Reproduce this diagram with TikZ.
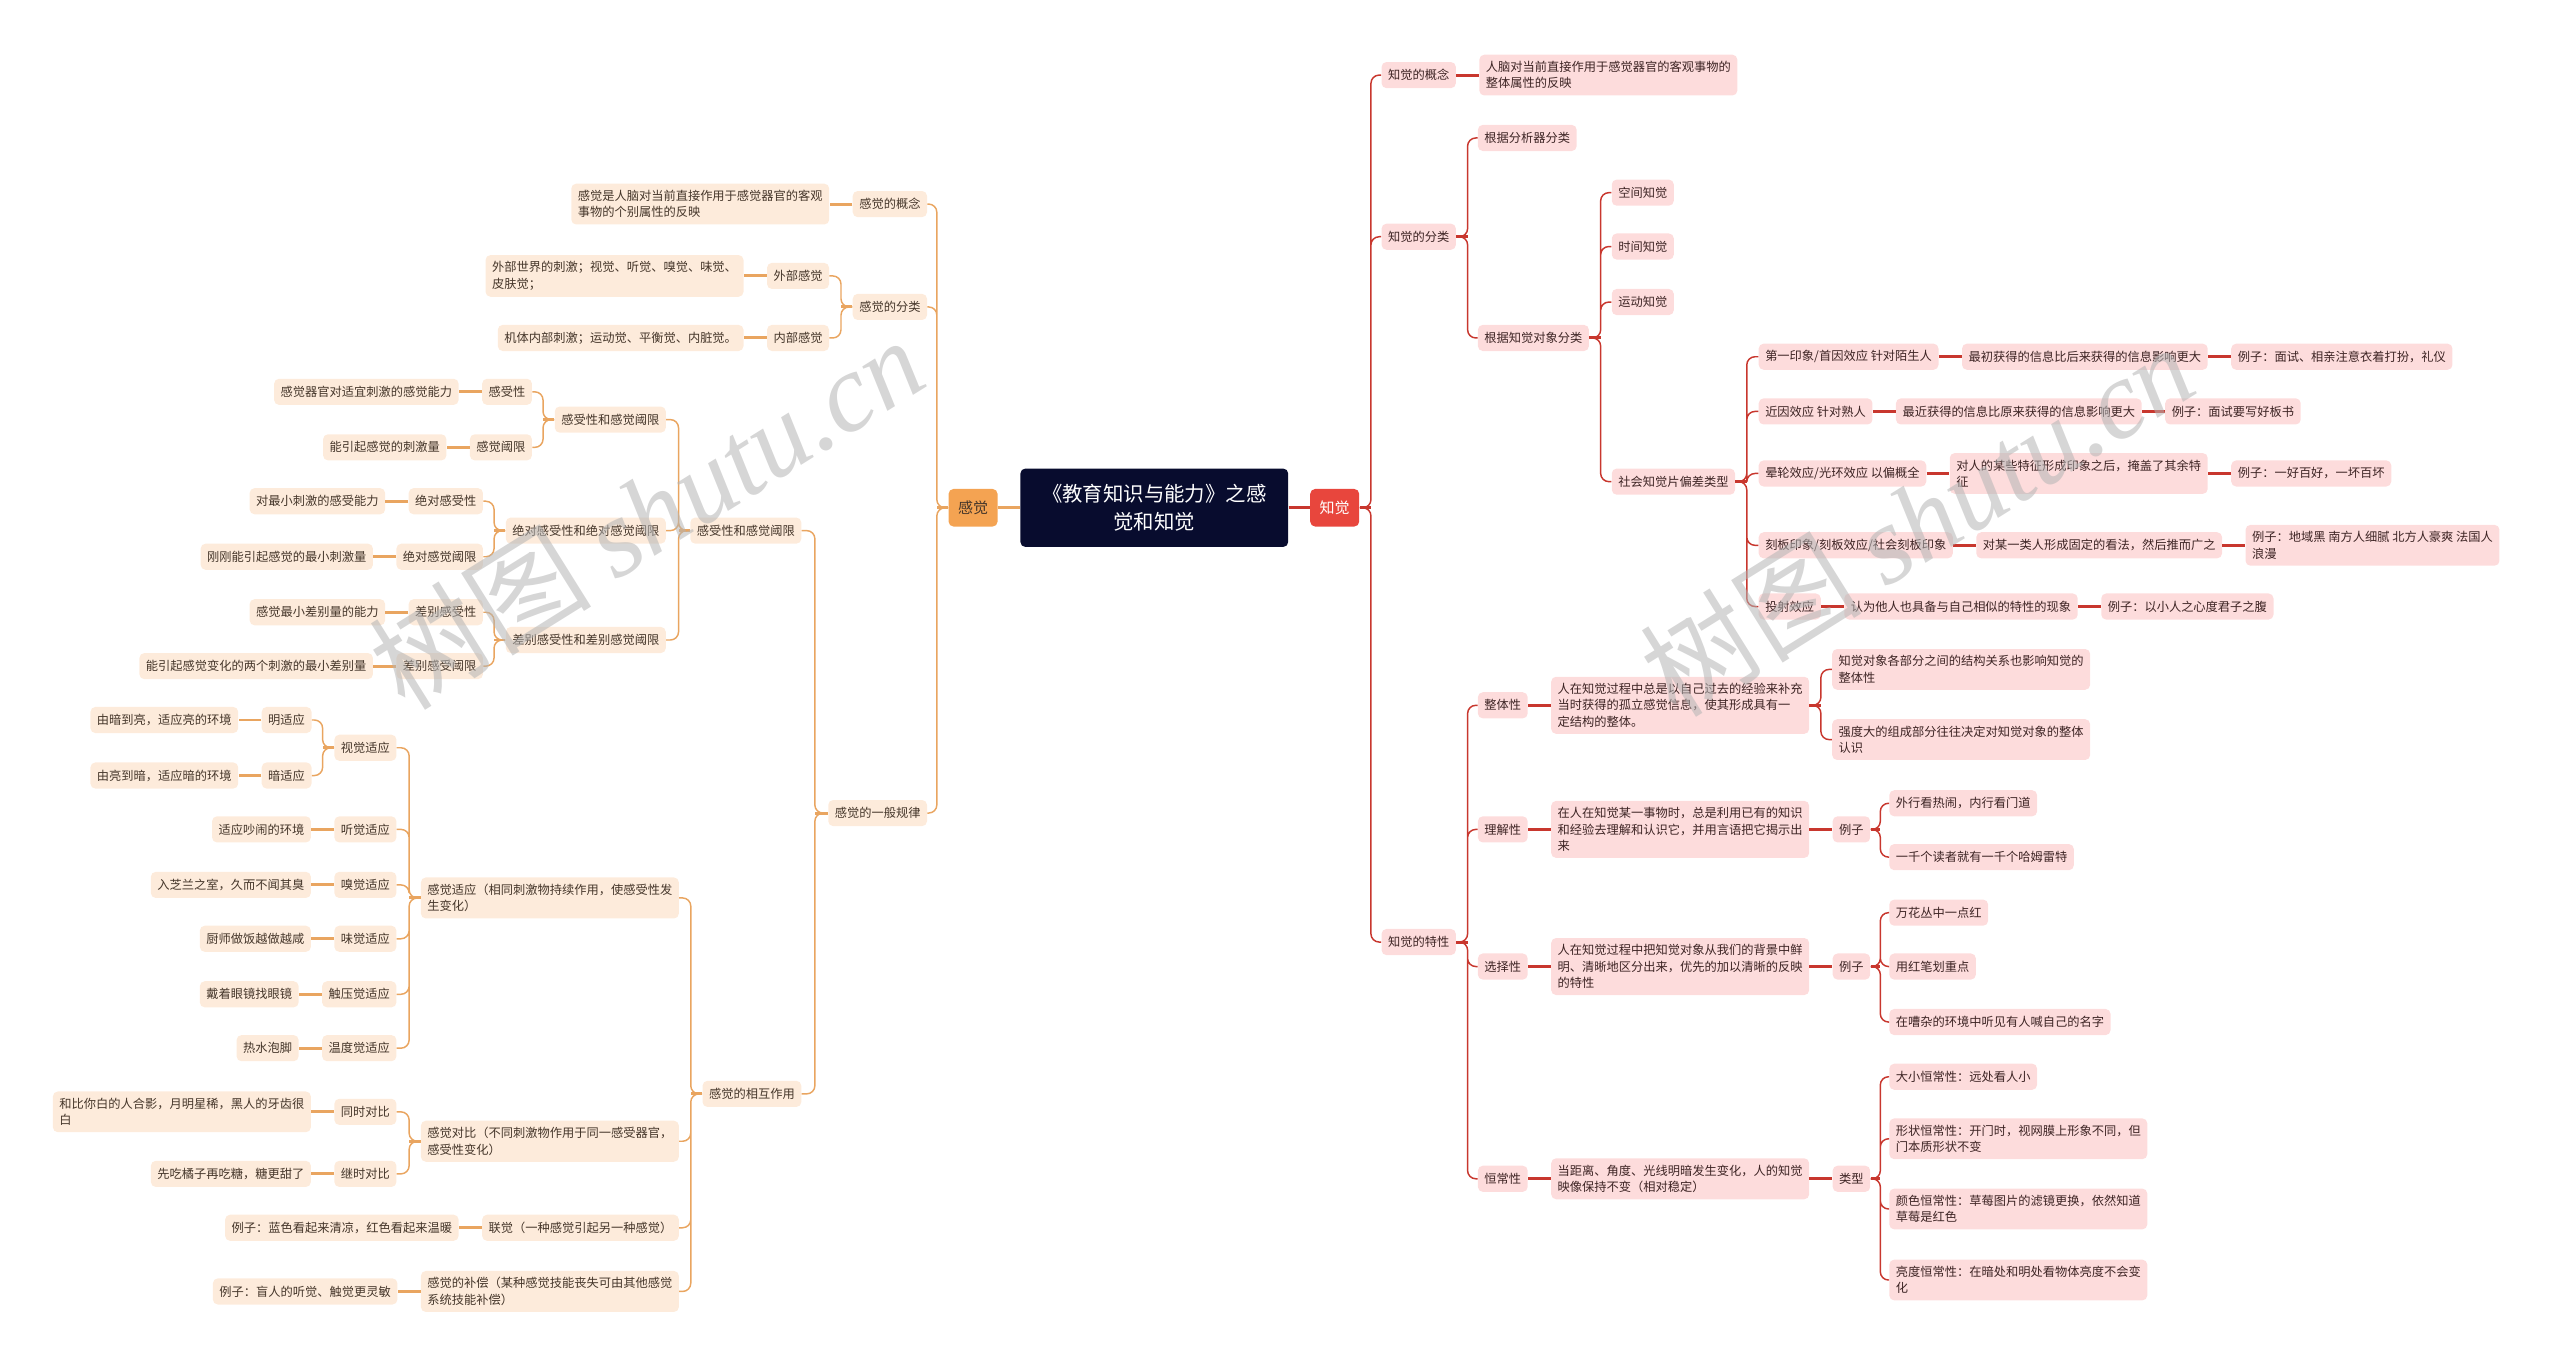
\documentclass[tikz,border=0pt]{standalone}
\usepackage{fontspec}
\setmainfont{Noto Sans CJK SC}
\newfontfamily\wmfont{Liberation Serif}
\usetikzlibrary{positioning}
\definecolor{TitleBG}{HTML}{080C2E}
\definecolor{SenseBG}{HTML}{F4A352}
\definecolor{PercBG}{HTML}{E8463D}
\definecolor{LeafL}{HTML}{FDEBDB}
\definecolor{LeafR}{HTML}{FDDCDC}
\definecolor{TxtL}{HTML}{45362A}
\definecolor{TxtR}{HTML}{3D2424}
\definecolor{LineL}{HTML}{E9A560}
\definecolor{LineR}{HTML}{C8372E}
\definecolor{MarkGray}{HTML}{B4B4B4}

\begin{document}
\begin{tikzpicture}[x=1pt,y=-1pt,
  every node/.style={font=\fontsize{7.5}{10}\selectfont},
  box/.style={rounded corners=3pt, inner xsep=4pt, inner ysep=4pt,
              minimum height=16pt, align=left},
  le/.style={box, fill=LeafL, text=TxtL, anchor=east},
  ri/.style={box, fill=LeafR, text=TxtR, anchor=west},
  lnL/.style={draw=LineL, line width=0.9pt, rounded corners=5pt},
  lnR/.style={draw=LineR, line width=0.9pt, rounded corners=5pt},
  stL/.style={draw=LineL, line width=1.8pt},
  stR/.style={draw=LineR, line width=1.8pt},
  wmark/.style={text=MarkGray, opacity=0.55, rotate=32, font=\fontsize{68}{68}\selectfont}]
  \useasboundingbox (0,0) rectangle (1568,837);

  % centre
  \node[fill=TitleBG, text=white, rounded corners=3pt, minimum width=164pt,
        minimum height=48pt, align=center, font=\fontsize{12.5}{17}\selectfont]
        (ttl) at (707,311) {《教育知识与能力》之感\\觉和知觉};
  \node[fill=SenseBG, text=TxtL, rounded corners=3pt, minimum width=30pt,
        minimum height=23pt, font=\fontsize{9.2}{11}\selectfont] (gj) at (596,311) {感觉};
  \node[fill=PercBG, text=white, rounded corners=3pt, minimum width=30pt,
        minimum height=23pt, font=\fontsize{9.2}{11}\selectfont] (zj) at (817.5,311) {知觉};
  \draw[stL] (gj.east) -- (ttl.west);
  \draw[stR] (ttl.east) -- (zj.west);

  % ---- left: 感觉
  \node[le] (gjA) at (568,125) {感觉的概念};
  \node[le, left=14pt of gjA] (gjA1) {感觉是人脑对当前直接作用于感觉器官的客观\\事物的个别属性的反映};
  \node[le] (gjB) at (568,188) {感觉的分类};
  \node[le] (wb) at (508,169) {外部感觉};
  \node[le, left=14pt of wb] (wb1) {外部世界的刺激；视觉、听觉、嗅觉、味觉、\\皮肤觉；};
  \node[le] (nb) at (508,207) {内部感觉};
  \node[le, left=14pt of nb] (nb1) {机体内部刺激；运动觉、平衡觉、内脏觉。};
  \node[le] (gjC) at (568,498) {感觉的一般规律};

  \node[le] (gs) at (491,325) {感受性和感觉阈限};
  \node[le] (gs1) at (408,257) {感受性和感觉阈限};
  \node[le] (gsA) at (326,240) {感受性};
  \node[le, left=14pt of gsA] (gsA1) {感觉器官对适宜刺激的感觉能力};
  \node[le] (gsB) at (326,274) {感觉阈限};
  \node[le, left=14pt of gsB] (gsB1) {能引起感觉的刺激量};
  \node[le] (jd) at (408,325) {绝对感受性和绝对感觉阈限};
  \node[le] (jdA) at (296,307) {绝对感受性};
  \node[le, left=14pt of jdA] (jdA1) {对最小刺激的感受能力};
  \node[le] (jdB) at (296,341) {绝对感觉阈限};
  \node[le, left=14pt of jdB] (jdB1) {刚刚能引起感觉的最小刺激量};
  \node[le] (cb) at (408,392) {差别感受性和差别感觉阈限};
  \node[le] (cbA) at (296,375) {差别感受性};
  \node[le, left=14pt of cbA] (cbA1) {感觉最小差别量的能力};
  \node[le] (cbB) at (296,408) {差别感受阈限};
  \node[le, left=14pt of cbB] (cbB1) {能引起感觉变化的两个刺激的最小差别量};

  \node[le] (xh) at (491,670) {感觉的相互作用};
  \node[le] (sy) at (416,550) {感觉适应（相同刺激物持续作用，使感受性发\\生变化）};
  \node[le] (sy1) at (243,458) {视觉适应};
  \node[le] (sy1a) at (191,441) {明适应};
  \node[le, left=14pt of sy1a] (sy1a1) {由暗到亮，适应亮的环境};
  \node[le] (sy1b) at (191,475) {暗适应};
  \node[le, left=14pt of sy1b] (sy1b1) {由亮到暗，适应暗的环境};
  \node[le] (sy2) at (243,508) {听觉适应};
  \node[le, left=14pt of sy2] (sy2a) {适应吵闹的环境};
  \node[le] (sy3) at (243,542) {嗅觉适应};
  \node[le, left=14pt of sy3] (sy3a) {入芝兰之室，久而不闻其臭};
  \node[le] (sy4) at (243,575) {味觉适应};
  \node[le, left=14pt of sy4] (sy4a) {厨师做饭越做越咸};
  \node[le] (sy5) at (243,609) {触压觉适应};
  \node[le, left=14pt of sy5] (sy5a) {戴着眼镜找眼镜};
  \node[le] (sy6) at (243,642) {温度觉适应};
  \node[le, left=14pt of sy6] (sy6a) {热水泡脚};
  \node[le] (db) at (416,699) {感觉对比（不同刺激物作用于同一感受器官，\\感受性变化）};
  \node[le] (dbA) at (243,681) {同时对比};
  \node[le, left=14pt of dbA] (dbA1) {和比你白的人合影，月明星稀，黑人的牙齿很\\白};
  \node[le] (dbB) at (243,719) {继时对比};
  \node[le, left=14pt of dbB] (dbB1) {先吃橘子再吃糖，糖更甜了};
  \node[le] (lj) at (416,752) {联觉（一种感觉引起另一种感觉）};
  \node[le, left=14pt of lj] (lj1) {例子：蓝色看起来清凉，红色看起来温暖};
  \node[le] (bc) at (416,791) {感觉的补偿（某种感觉技能丧失可由其他感觉\\系统技能补偿）};
  \node[le, left=14pt of bc] (bc1) {例子：盲人的听觉、触觉更灵敏};

  \draw[stL] (gj.west) -- ++(-7,0) (gjB.west) -- ++(-7,0) (gjC.west) -- ++(-8,0)
    (gs.west) -- ++(-7,0) (gs1.west) -- ++(-7,0) (jd.west) -- ++(-7,0) (cb.west) -- ++(-7,0)
    (xh.west) -- ++(-7,0) (sy.west) -- ++(-7,0) (sy1.west) -- ++(-7,0) (db.west) -- ++(-7,0);
  \draw[lnL] (gj.west) -- ++(-7,0) |- (gjA.east) (gj.west) -- ++(-7,0) |- (gjB.east)
    (gj.west) -- ++(-7,0) |- (gjC.east);
  \draw[lnL] (gjB.west) -- ++(-7,0) |- (wb.east) (gjB.west) -- ++(-7,0) |- (nb.east);
  \draw[lnL] (gjC.west) -- ++(-8,0) |- (gs.east) (gjC.west) -- ++(-8,0) |- (xh.east);
  \draw[lnL] (gs.west) -- ++(-7,0) |- (gs1.east) (gs.west) -- ++(-7,0) |- (jd.east)
    (gs.west) -- ++(-7,0) |- (cb.east);
  \draw[lnL] (gs1.west) -- ++(-7,0) |- (gsA.east) (gs1.west) -- ++(-7,0) |- (gsB.east);
  \draw[lnL] (jd.west) -- ++(-7,0) |- (jdA.east) (jd.west) -- ++(-7,0) |- (jdB.east);
  \draw[lnL] (cb.west) -- ++(-7,0) |- (cbA.east) (cb.west) -- ++(-7,0) |- (cbB.east);
  \draw[lnL] (xh.west) -- ++(-7,0) |- (sy.east) (xh.west) -- ++(-7,0) |- (db.east)
    (xh.west) -- ++(-7,0) |- (lj.east) (xh.west) -- ++(-7,0) |- (bc.east);
  \draw[lnL] (sy.west) -- ++(-7,0) |- (sy1.east) (sy.west) -- ++(-7,0) |- (sy2.east)
    (sy.west) -- ++(-7,0) |- (sy3.east) (sy.west) -- ++(-7,0) |- (sy4.east)
    (sy.west) -- ++(-7,0) |- (sy5.east) (sy.west) -- ++(-7,0) |- (sy6.east);
  \draw[lnL] (sy1.west) -- ++(-7,0) |- (sy1a.east) (sy1.west) -- ++(-7,0) |- (sy1b.east);
  \draw[lnL] (db.west) -- ++(-7,0) |- (dbA.east) (db.west) -- ++(-7,0) |- (dbB.east);
  \draw[stL] (gjA.west) -- (gjA1.east) (wb.west) -- (wb1.east) (nb.west) -- (nb1.east)
    (gsA.west) -- (gsA1.east) (gsB.west) -- (gsB1.east) (jdA.west) -- (jdA1.east)
    (jdB.west) -- (jdB1.east) (cbA.west) -- (cbA1.east) (cbB.west) -- (cbB1.east)
    (sy1a.west) -- (sy1a1.east) (sy1b.west) -- (sy1b1.east) (sy2.west) -- (sy2a.east)
    (sy3.west) -- (sy3a.east) (sy4.west) -- (sy4a.east) (sy5.west) -- (sy5a.east)
    (sy6.west) -- (sy6a.east) (dbA.west) -- (dbA1.east) (dbB.west) -- (dbB1.east)
    (lj.west) -- (lj1.east) (bc.west) -- (bc1.east);

  % ---- right: 知觉
  \node[ri] (zjA) at (846,46) {知觉的概念};
  \node[ri, right=14pt of zjA] (zjA1) {人脑对当前直接作用于感觉器官的客观事物的\\整体属性的反映};
  \node[ri] (zjB) at (846,145) {知觉的分类};
  \node[ri] (fx) at (905,84.5) {根据分析器分类};
  \node[ri] (dx) at (905,207) {根据知觉对象分类};
  \node[ri] (kj) at (987,118) {空间知觉};
  \node[ri] (sj) at (987,151) {时间知觉};
  \node[ri] (yd) at (987,185) {运动知觉};
  \node[ri] (sh) at (987,295) {社会知觉片偏差类型};
  \node[ri] (pc1) at (1077,218.5) {第一印象/首因效应 针对陌生人};
  \node[ri, right=14pt of pc1] (pc1a) {最初获得的信息比后来获得的信息影响更大};
  \node[ri, right=14pt of pc1a] (pc1b) {例子：面试、相亲注意衣着打扮，礼仪};
  \node[ri] (pc2) at (1077,252) {近因效应 针对熟人};
  \node[ri, right=14pt of pc2] (pc2a) {最近获得的信息比原来获得的信息影响更大};
  \node[ri, right=14pt of pc2a] (pc2b) {例子：面试要写好板书};
  \node[ri] (pc3) at (1077,290) {晕轮效应/光环效应 以偏概全};
  \node[ri, right=14pt of pc3] (pc3a) {对人的某些特征形成印象之后，掩盖了其余特\\征};
  \node[ri, right=14pt of pc3a] (pc3b) {例子：一好百好，一坏百坏};
  \node[ri] (pc4) at (1077,334) {刻板印象/刻板效应/社会刻板印象};
  \node[ri, right=14pt of pc4] (pc4a) {对某一类人形成固定的看法，然后推而广之};
  \node[ri, right=14pt of pc4a] (pc4b) {例子：地域黑 南方人细腻 北方人豪爽 法国人\\浪漫};
  \node[ri] (pc5) at (1077,371.5) {投射效应};
  \node[ri, right=14pt of pc5] (pc5a) {认为他人也具备与自己相似的特性的现象};
  \node[ri, right=14pt of pc5a] (pc5b) {例子：以小人之心度君子之腹};

  \node[ri] (zjC) at (846,577) {知觉的特性};
  \node[ri] (tx1) at (905,432) {整体性};
  \node[ri, right=14pt of tx1] (tx1a) {人在知觉过程中总是以自己过去的经验来补充\\当时获得的孤立感觉信息，使其形成具有一\\定结构的整体。};
  \node[ri] (tx1b) at (1122,410) {知觉对象各部分之间的结构关系也影响知觉的\\整体性};
  \node[ri] (tx1c) at (1122,453) {强度大的组成部分往往决定对知觉对象的整体\\认识};
  \node[ri] (tx2) at (905,508) {理解性};
  \node[ri, right=14pt of tx2] (tx2a) {在人在知觉某一事物时，总是利用已有的知识\\和经验去理解和认识它，并用言语把它揭示出\\来};
  \node[ri, right=14pt of tx2a] (tx2b) {例子};
  \node[ri] (tx2c) at (1157,492) {外行看热闹，内行看门道};
  \node[ri] (tx2d) at (1157,525) {一千个读者就有一千个哈姆雷特};
  \node[ri] (tx3) at (905,592) {选择性};
  \node[ri, right=14pt of tx3] (tx3a) {人在知觉过程中把知觉对象从我们的背景中鲜\\明、清晰地区分出来，优先的加以清晰的反映\\的特性};
  \node[ri, right=14pt of tx3a] (tx3b) {例子};
  \node[ri] (tx3c) at (1157,559) {万花丛中一点红};
  \node[ri] (tx3d) at (1157,592) {用红笔划重点};
  \node[ri] (tx3e) at (1157,626) {在嘈杂的环境中听见有人喊自己的名字};
  \node[ri] (tx4) at (905,722) {恒常性};
  \node[ri, right=14pt of tx4] (tx4a) {当距离、角度、光线明暗发生变化，人的知觉\\映像保持不变（相对稳定）};
  \node[ri, right=14pt of tx4a] (tx4b) {类型};
  \node[ri] (tx4c) at (1157,659.5) {大小恒常性：远处看人小};
  \node[ri] (tx4d) at (1157,697.5) {形状恒常性：开门时，视网膜上形象不同，但\\门本质形状不变};
  \node[ri] (tx4e) at (1157,740.5) {颜色恒常性：草莓图片的滤镜更换，依然知道\\草莓是红色};
  \node[ri] (tx4f) at (1157,784) {亮度恒常性：在暗处和明处看物体亮度不会变\\化};

  \draw[stR] (zj.east) -- ++(7,0) (zjB.east) -- ++(7,0) (dx.east) -- ++(7,0)
    (sh.east) -- ++(7,0) (zjC.east) -- ++(7,0) (tx1a.east) -- ++(7,0)
    (tx2b.east) -- ++(6,0) (tx3b.east) -- ++(6,0) (tx4b.east) -- ++(6,0);
  \draw[lnR] (zj.east) -- ++(7,0) |- (zjA.west) (zj.east) -- ++(7,0) |- (zjB.west)
    (zj.east) -- ++(7,0) |- (zjC.west);
  \draw[lnR] (zjB.east) -- ++(7,0) |- (fx.west) (zjB.east) -- ++(7,0) |- (dx.west);
  \draw[lnR] (dx.east) -- ++(7,0) |- (kj.west) (dx.east) -- ++(7,0) |- (sj.west)
    (dx.east) -- ++(7,0) |- (yd.west) (dx.east) -- ++(7,0) |- (sh.west);
  \draw[lnR] (sh.east) -- ++(7,0) |- (pc1.west) (sh.east) -- ++(7,0) |- (pc2.west)
    (sh.east) -- ++(7,0) |- (pc3.west) (sh.east) -- ++(7,0) |- (pc4.west)
    (sh.east) -- ++(7,0) |- (pc5.west);
  \draw[lnR] (zjC.east) -- ++(7,0) |- (tx1.west) (zjC.east) -- ++(7,0) |- (tx2.west)
    (zjC.east) -- ++(7,0) |- (tx3.west) (zjC.east) -- ++(7,0) |- (tx4.west);
  \draw[lnR] (tx1a.east) -- ++(7,0) |- (tx1b.west) (tx1a.east) -- ++(7,0) |- (tx1c.west);
  \draw[lnR] (tx2b.east) -- ++(6,0) |- (tx2c.west) (tx2b.east) -- ++(6,0) |- (tx2d.west);
  \draw[lnR] (tx3b.east) -- ++(6,0) |- (tx3c.west) (tx3b.east) -- ++(6,0) |- (tx3d.west)
    (tx3b.east) -- ++(6,0) |- (tx3e.west);
  \draw[lnR] (tx4b.east) -- ++(6,0) |- (tx4c.west) (tx4b.east) -- ++(6,0) |- (tx4d.west)
    (tx4b.east) -- ++(6,0) |- (tx4e.west) (tx4b.east) -- ++(6,0) |- (tx4f.west);
  \draw[stR] (zjA.east) -- (zjA1.west) (pc1.east) -- (pc1a.west) (pc1a.east) -- (pc1b.west)
    (pc2.east) -- (pc2a.west) (pc2a.east) -- (pc2b.west) (pc3.east) -- (pc3a.west)
    (pc3a.east) -- (pc3b.west) (pc4.east) -- (pc4a.west) (pc4a.east) -- (pc4b.west)
    (pc5.east) -- (pc5a.west) (pc5a.east) -- (pc5b.west) (tx1.east) -- (tx1a.west)
    (tx2.east) -- (tx2a.west) (tx2a.east) -- (tx2b.west) (tx3.east) -- (tx3a.west)
    (tx3a.east) -- (tx3b.west) (tx4.east) -- (tx4a.west) (tx4a.east) -- (tx4b.west);

  % watermarks
  \node[wmark] (wm1) at (396,314) {树图 {\wmfont\itshape shutu.cn}};
  \node[wmark] (wm2) at (1174,318) {树图 {\wmfont\itshape shutu.cn}};
\end{tikzpicture}
\end{document}
